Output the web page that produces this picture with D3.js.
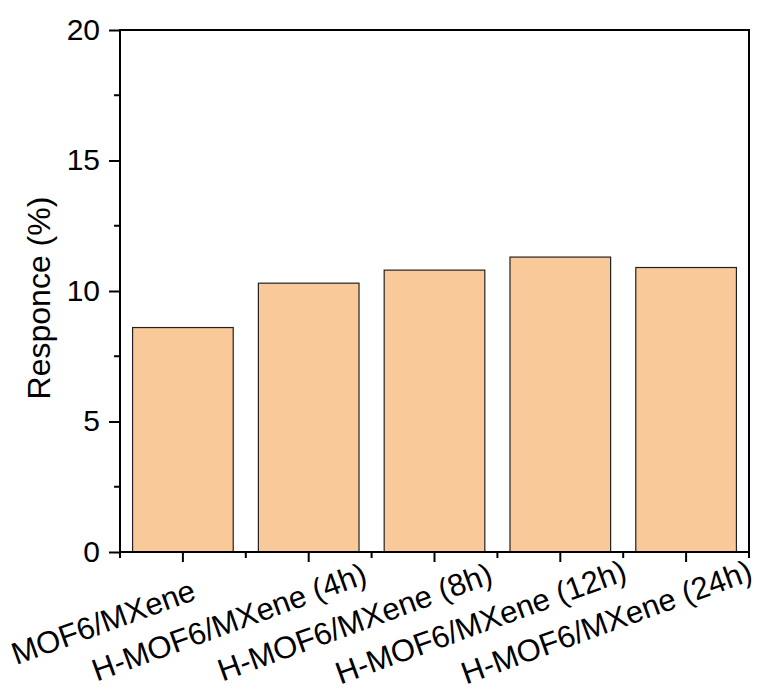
<!DOCTYPE html>
<html>
<head>
<meta charset="utf-8">
<script src="https://cdn.jsdelivr.net/npm/d3@7"></script>
<style>
  body { margin: 0; background: #fff; }
  text { font-family: Arial, "Liberation Sans", sans-serif; fill: #000; }
</style>
</head>
<body>
<div></div>
<script>
const width = 767;
const height = 698;

const categories = ['MOF6/MXene', 'H-MOF6/MXene (4h)', 'H-MOF6/MXene (8h)', 'H-MOF6/MXene (12h)', 'H-MOF6/MXene (24h)'];
const responce = [8.6, 10.3, 10.8, 11.3, 10.9];
const yTicks = [0, 5, 10, 15, 20];
const yMinorTicks = [2.5, 7.5, 12.5, 17.5];

const margin = {left: 120, right: 18, top: 30, bottom: 146};

const svg = d3.select('div').append('svg').attr('width', width).attr('height', height);

const x = d3.scaleBand()
    .domain(categories)
    .range([margin.left, width - margin.right])
    .paddingInner(0.2)
    .paddingOuter(0.1);

const y = d3.scaleLinear()
    .domain([0, 20])
    .range([height - margin.bottom, margin.top]);

// bars
svg.append('g')
    .selectAll('rect')
    .data(responce)
    .enter().append('rect')
    .attr('x', (d, i) => x(categories[i]))
    .attr('y', d => y(d))
    .attr('width', x.bandwidth())
    .attr('height', d => y(0) - y(d))
    .attr('fill', '#fac99a')
    .attr('stroke', '#222')
    .attr('stroke-width', 1.2);

// y axis
const yAxis = svg.append('g')
    .attr('transform', 'translate(' + margin.left + ',0)')
    .call(d3.axisLeft(y).tickValues(yTicks).tickSize(11).tickPadding(9).tickFormat(d3.format('d')));
yAxis.select('.domain').remove();
yAxis.selectAll('line').attr('stroke', '#000').attr('stroke-width', 2);
yAxis.selectAll('text').attr('font-size', 30).attr('dy', '0.31em');

svg.append('g')
    .selectAll('line')
    .data(yMinorTicks)
    .enter().append('line')
    .attr('x1', margin.left - 6).attr('x2', margin.left)
    .attr('y1', d => y(d)).attr('y2', d => y(d))
    .attr('stroke', '#000').attr('stroke-width', 2);

// x axis ticks
const bottom = y(0);
svg.append('g')
    .selectAll('line')
    .data(categories)
    .enter().append('line')
    .attr('x1', d => x(d) + x.bandwidth() / 2).attr('x2', d => x(d) + x.bandwidth() / 2)
    .attr('y1', bottom).attr('y2', bottom + 10)
    .attr('stroke', '#000').attr('stroke-width', 2);

const step = x.step();
svg.append('g')
    .selectAll('line')
    .data(d3.range(categories.length + 1))
    .enter().append('line')
    .attr('x1', i => margin.left + i * step).attr('x2', i => margin.left + i * step)
    .attr('y1', bottom).attr('y2', bottom + 6)
    .attr('stroke', '#000').attr('stroke-width', 2);

// x labels (rotated)
svg.append('g')
    .selectAll('text')
    .data(categories)
    .enter().append('text')
    .attr('transform', d => 'translate(' + (x(d) + x.bandwidth() / 2 - 76) + ',632) rotate(-20)')
    .attr('text-anchor', 'middle')
    .attr('font-size', 31)
    .text(d => d);

// frame
svg.append('rect')
    .attr('x', margin.left).attr('y', margin.top)
    .attr('width', width - margin.right - margin.left)
    .attr('height', y(0) - margin.top)
    .attr('fill', 'none')
    .attr('stroke', '#000')
    .attr('stroke-width', 2);

// y title
svg.append('text')
    .attr('transform', 'translate(50,298) rotate(-90)')
    .attr('text-anchor', 'middle')
    .attr('font-size', 32)
    .text('Responce (%)');
</script>
</body>
</html>
